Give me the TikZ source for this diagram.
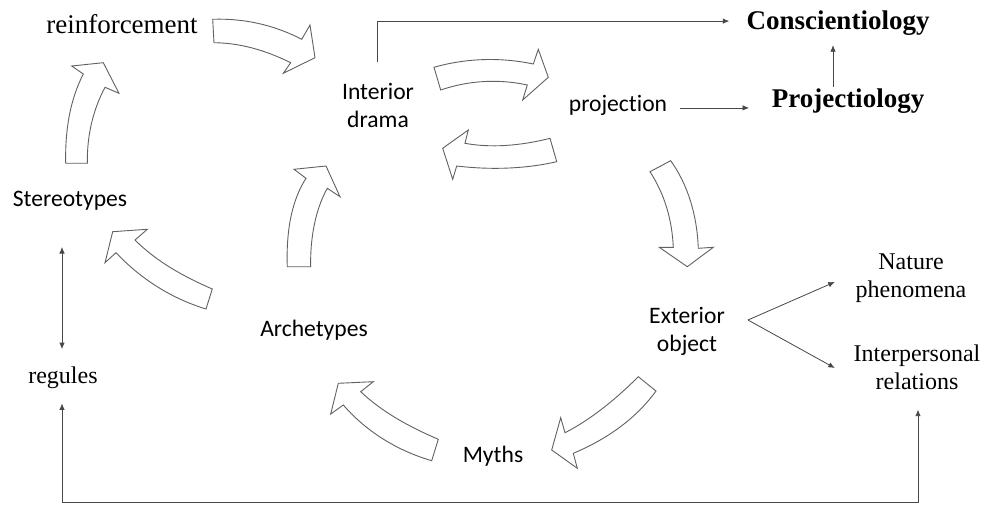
\documentclass[tikz,border=0pt]{standalone}
\usepackage{fontspec}
\setmainfont{Liberation Serif}
\newfontfamily\carlito{Carlito}[Ligatures={NoCommon}]
\usetikzlibrary{arrows.meta,calc}
\begin{document}
\begin{tikzpicture}[x=1pt,y=-1pt,
  >={Latex[length=6.5pt,width=5.5pt]},
  sans/.style={font=\carlito\fontsize{23.6}{28}\selectfont, inner sep=0pt, align=center},
  serif/.style={font=\fontsize{24}{28}\selectfont, inner sep=0pt, align=center},
  bigserif/.style={font=\fontsize{27}{32}\selectfont, inner sep=0pt},
  boldserif/.style={font=\bfseries\fontsize{27}{32}\selectfont, inner sep=0pt},
  blockarrow/.style={draw=black!62, line width=0.9pt, fill=white, line join=miter},
  conn/.style={draw=black!72, line width=0.8pt},
]
\fill[white] (0,0) rectangle (985,505);
\useasboundingbox (0,0) rectangle (985,505);

% text nodes
\node[bigserif, anchor=base] (reinf) at (122,34) {reinforcement};
\node[boldserif, anchor=base] (consc) at (838,30) {Conscientiology};
\node[boldserif, anchor=base] (projy) at (848,108) {Projectiology};
\node[sans, anchor=base] (projection) at (618,112) {projection};
\node[sans] (interior) at (378,105.5) {Interior\\drama};
\node[sans, anchor=base] (stereo) at (70,207) {Stereotypes};
\node[serif, anchor=base] (regules) at (63,383) {regules};
\node[sans, anchor=base] (arche) at (314,336) {Archetypes};
\node[sans] (exterior) at (687,331) {Exterior\\object};
\node[sans, anchor=base] (myths) at (493,462) {Myths};
\node[serif] (nature) at (911,278.5) {Nature\\phenomena};
\node[serif] (interp) at (917,367) {Interpersonal\\relations};

% block arrows of the cycle
\draw[blockarrow] (212.7,19.3) .. controls (250,18) and (280,28) .. (301.7,39.3) -- (310,25) -- (315,57.7) -- (283.3,73.3) -- (290.7,62.7) .. controls (265,50) and (240,43) .. (214,42.7) -- cycle;
\draw[blockarrow] (65.7,163.3) .. controls (65,130) and (70,100) .. (83.3,74) -- (71.7,66) -- (103.3,62.7) -- (119,93.3) -- (105,87.3) .. controls (93,110) and (87,135) .. (87.3,163.3) -- cycle;
\draw[blockarrow] (212.3,289) .. controls (180,275) and (155,260) .. (135,240) -- (147.3,229.3) -- (112.7,231.7) -- (105,262.7) -- (116,252.7) .. controls (140,278) and (170,298) .. (206,309) -- cycle;
\draw[blockarrow] (287.3,266.7) .. controls (286,230) and (292,200) .. (306,178.3) -- (294,169.3) -- (326,166) -- (340,196.7) -- (327.3,188.3) .. controls (315,210) and (310,240) .. (310.7,266.7) -- cycle;
\draw[blockarrow] (434,67.3) .. controls (470,57) and (505,58) .. (533.3,64) -- (538.3,49.3) -- (548.3,77.3) -- (522.7,100) -- (527.3,85) .. controls (500,79) and (470,80) .. (440.7,90) -- cycle;
\draw[blockarrow] (550,138.3) .. controls (520,146) and (490,148) .. (465,143.3) -- (468.3,130) -- (442.7,148.3) -- (452.7,179.3) -- (456.7,166) .. controls (490,170) and (525,169) .. (556.7,161.7) -- cycle;
\draw[blockarrow] (650,171.7) .. controls (665,195) and (672,220) .. (673.3,247.3) -- (659.3,247.3) -- (687.3,266.7) -- (713.3,247.3) -- (698.3,248.3) .. controls (697,215) and (688,185) .. (670.7,160.7) -- cycle;
\draw[blockarrow] (638.3,376.7) .. controls (615,400) and (590,420) .. (565,432.7) -- (560.7,417.7) -- (551.7,450) -- (577.3,468.3) -- (573.3,453.3) .. controls (605,440) and (635,420) .. (656,391) -- cycle;
\draw[blockarrow] (438.3,439.3) .. controls (405,425) and (380,410) .. (360.7,391.7) -- (373.3,381.7) -- (338.3,383.3) -- (330.7,414) -- (343.3,405) .. controls (365,430) and (395,450) .. (431.7,460.7) -- cycle;

% connectors
\draw[conn,->] ($(interior.north)+(-1,-21)$) |- ($(consc.west)+(-17,-2.5)$);
\draw[conn,->] ($(projy.north)+(-15,-2)$) -- ($(consc.south)+(-5,9)$);
\coordinate (pstart) at ($(projection.east)+(13,2)$);
\coordinate (ptip) at ($(projy.west)+(-22.5,0)$);
\draw[conn,->] (pstart) -- (pstart -| ptip);
\draw[conn,<->] ($(stereo.south)+(-8,36)$) -- ($(regules.north)+(-1,-17)$);
\draw[conn,<->] ($(regules.south)+(-1,15)$) -- ++(0,99) -| ($(interp.south)+(1,20)$);
\coordinate (branch) at ($(exterior.east)+(23,-11)$);
\draw[conn,->] (branch) -- ($(nature.west)+(-20.7,3.5)$);
\draw[conn,->] (branch) -- ($(interp.west)+(-18.7,1)$);
\end{tikzpicture}
\end{document}
